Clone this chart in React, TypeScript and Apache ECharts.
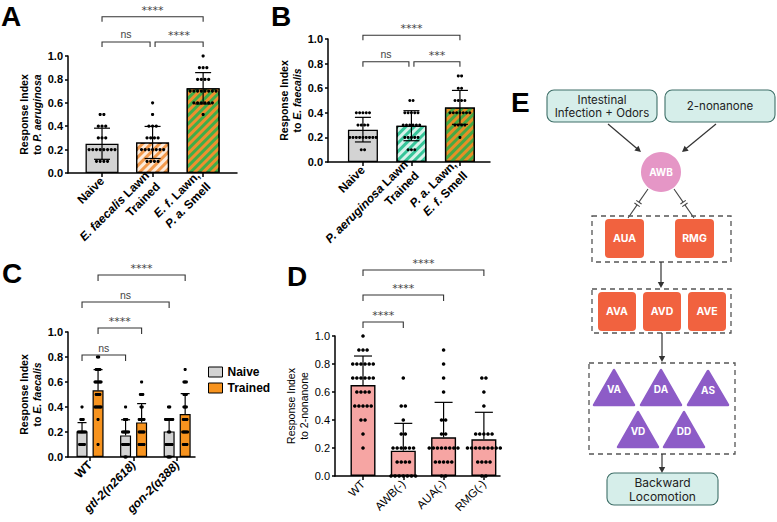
import React, { useEffect, useRef } from "react";
import * as echarts from "echarts";

const FONT = "'Liberation Sans', Arial, sans-serif";
const STAR_FONT = "'DejaVu Sans', sans-serif";
const DIAG_FONT = "Inter, Roboto, 'Noto Sans', sans-serif";

// ---------------- Panel A ----------------
const catsA = ["Naive", "{i|E. faecalis} Lawn\nTrained", "{i|E. f.} Lawn,\n{i|P. a.} Smell"];
const meansA = [0.25, 0.261, 0.724];
const sdA = [0.133, 0.137, 0.134];
const dotsANaive = [0.5, 0.5, 0.4, 0.4, 0.4, 0.3, 0.3, 0.3, 0.2, 0.2, 0.2, 0.2, 0.2, 0.2, 0.2, 0.2, 0.1, 0.1, 0.1, 0.1];
const dotsATrained = [0.6, 0.5, 0.4, 0.4, 0.4, 0.3, 0.3, 0.3, 0.3, 0.2, 0.2, 0.2, 0.2, 0.2, 0.2, 0.2, 0.1, 0.1, 0.1, 0.1];
const dotsAMixed = [1.0, 0.9, 0.9, 0.9, 0.8, 0.8, 0.8, 0.8, 0.7, 0.7, 0.7, 0.7, 0.7, 0.7, 0.7, 0.7, 0.6, 0.6, 0.6, 0.6, 0.6, 0.6, 0.5];
const sigA = [
  { label: "ns", from: 0, to: 1 },
  { label: "****", from: 1, to: 2 },
  { label: "****", from: 0, to: 2 },
];

// ---------------- Panel B ----------------
const catsB = ["Naive", "{i|P. aeruginosa} Lawn\nTrained", "{i|P. a.} Lawn,\n{i|E. f.} Smell"];
const meansB = [0.263, 0.295, 0.444];
const sdB = [0.1, 0.122, 0.138];
const dotsBNaive = [0.4, 0.4, 0.4, 0.4, 0.4, 0.3, 0.3, 0.3, 0.3, 0.2, 0.2, 0.2, 0.2, 0.2, 0.2, 0.2, 0.2, 0.2, 0.1, 0.1];
const dotsBTrained = [0.5, 0.5, 0.4, 0.4, 0.4, 0.4, 0.4, 0.3, 0.3, 0.3, 0.3, 0.3, 0.3, 0.2, 0.2, 0.2, 0.2, 0.2, 0.1, 0.1, 0.1];
const dotsBMixed = [0.7, 0.7, 0.6, 0.6, 0.5, 0.5, 0.5, 0.5, 0.4, 0.4, 0.4, 0.4, 0.4, 0.4, 0.4, 0.3, 0.3, 0.3, 0.3, 0.2];
const sigB = [
  { label: "ns", from: 0, to: 1 },
  { label: "***", from: 1, to: 2 },
  { label: "****", from: 0, to: 2 },
];

// ---------------- Panel C ----------------
const catsC = ["WT", "{i|gtl-2(n2618)}", "{i|gon-2(q388)}"];
const meansCNaive = [0.205, 0.173, 0.205];
const sdCNaive = [0.07, 0.125, 0.1];
const meansCTrained = [0.533, 0.277, 0.344];
const sdCTrained = [0.166, 0.15, 0.163];
const dotsCWTNaive = [0.4, 0.3, 0.3, 0.3, 0.2, 0.2, 0.2, 0.2, 0.2, 0.2, 0.2, 0.1, 0.1, 0.1, 0.1, 0.1];
const dotsCWTTrained = [0.8, 0.8, 0.7, 0.7, 0.7, 0.7, 0.6, 0.6, 0.6, 0.6, 0.6, 0.6, 0.5, 0.5, 0.5, 0.5, 0.4, 0.4, 0.4, 0.4, 0.4, 0.4, 0.3, 0.1];
const dotsCGtlNaive = [0.4, 0.3, 0.3, 0.3, 0.2, 0.2, 0.2, 0.2, 0.2, 0.2, 0.1, 0.1, 0.1, 0.1, 0.1, 0.1, 0.0, 0.0];
const dotsCGtlTrained = [0.6, 0.5, 0.5, 0.5, 0.4, 0.4, 0.3, 0.3, 0.3, 0.3, 0.3, 0.2, 0.2, 0.2, 0.2, 0.2, 0.1, 0.1, 0.1, 0.1, 0.1];
const dotsCGonNaive = [0.4, 0.4, 0.3, 0.3, 0.3, 0.3, 0.3, 0.3, 0.3, 0.2, 0.2, 0.1, 0.1, 0.1, 0.1, 0.1, 0.1, 0.0, 0.0, 0.0];
const dotsCGonTrained = [0.7, 0.6, 0.6, 0.6, 0.5, 0.5, 0.5, 0.4, 0.4, 0.4, 0.3, 0.3, 0.3, 0.3, 0.2, 0.2, 0.2, 0.2, 0.2, 0.1, 0.1, 0.1, 0.1];
const legendC = ["Naive", "Trained"];
// [label, fromGroup, fromSeries(0 naive / 1 trained), toGroup, toSeries]
const sigC: [string, number, number, number, number][] = [
  ["ns", 0, 0, 1, 0],
  ["****", 0, 1, 1, 1],
  ["ns", 0, 0, 2, 0],
  ["****", 0, 1, 2, 1],
];

// ---------------- Panel D ----------------
const catsD = ["WT", "AWB(-)", "AUA(-)", "RMG(-)"];
const meansD = [0.65, 0.181, 0.276, 0.262];
const sdD = [0.207, 0.195, 0.25, 0.193];
const dotsDWT = [1.0, 0.9, 0.9, 0.9, 0.8, 0.8, 0.8, 0.8, 0.8, 0.8, 0.7, 0.7, 0.7, 0.7, 0.7, 0.7, 0.6, 0.6, 0.6, 0.6, 0.5, 0.5, 0.5, 0.5, 0.5, 0.4, 0.4, 0.3, 0.2];
const dotsDAWB = [0.7, 0.5, 0.5, 0.4, 0.3, 0.3, 0.2, 0.2, 0.2, 0.2, 0.2, 0.2, 0.1, 0.1, 0.1, 0.1, 0.0, 0.0, 0.0, 0.0, 0.0, 0.0, 0.0];
const dotsDAUA = [0.9, 0.8, 0.7, 0.6, 0.4, 0.4, 0.3, 0.3, 0.2, 0.2, 0.2, 0.2, 0.2, 0.2, 0.2, 0.2, 0.1, 0.1, 0.1, 0.1, 0.1, 0.0, 0.0];
const dotsDRMG = [0.7, 0.7, 0.6, 0.5, 0.3, 0.3, 0.3, 0.3, 0.3, 0.2, 0.2, 0.2, 0.2, 0.2, 0.2, 0.2, 0.2, 0.2, 0.1, 0.1, 0.1, 0.1, 0.0, 0.0];
const sigD = [
  { label: "****", from: 0, to: 1 },
  { label: "****", from: 0, to: 2 },
  { label: "****", from: 0, to: 3 },
];

// ---------------- layout constants ----------------
const levelsA = [1.12, 1.12, 1.335];
const levelsB = [0.815, 0.815, 1.03];
const levelsC = [0.816, 1.032, 1.24, 1.456];
const levelsD = [1.1, 1.293, 1.471];
const C_OFF = 0.184; // half spacing between paired bars (in group units)

const stripe = (color: string) => ({
  symbol: "rect",
  symbolSize: 1,
  dashArrayX: [1, 0],
  dashArrayY: [2.2, 2.8],
  rotation: -Math.PI / 4,
  color,
});

function beeswarm(x: number, values: number[]) {
  const counts: Record<string, number> = {};
  values.forEach((v) => {
    const k = v.toFixed(2);
    counts[k] = (counts[k] || 0) + 1;
  });
  const seen: Record<string, number> = {};
  return values.map((v) => {
    const k = v.toFixed(2);
    seen[k] = seen[k] === undefined ? 0 : seen[k] + 1;
    return [x, v, seen[k] - (counts[k] - 1) / 2];
  });
}

function dotSeries(gi: number, groups: [number, number[]][], spacing: number, r: number) {
  const data: number[][] = [];
  groups.forEach(([x, vals]) => beeswarm(x, vals).forEach((d) => data.push(d)));
  return {
    type: "custom",
    xAxisIndex: gi,
    yAxisIndex: gi,
    z: 4,
    silent: true,
    data,
    renderItem: (_p: any, api: any) => {
      const pt = api.coord([api.value(0), api.value(1)]);
      return {
        type: "circle",
        shape: { cx: pt[0] + api.value(2) * spacing, cy: pt[1], r },
        style: { fill: "#000" },
      };
    },
  };
}

function errSeries(gi: number, xs: number[], means: number[], sds: number[], cap: number, both: boolean) {
  return {
    type: "custom",
    xAxisIndex: gi,
    yAxisIndex: gi,
    z: 3,
    silent: true,
    data: xs.map((x, i) => [x, means[i], sds[i]]),
    renderItem: (_p: any, api: any) => {
      const x = api.value(0);
      const m = api.value(1);
      const s = api.value(2);
      const top = api.coord([x, m + s]);
      const mid = api.coord([x, m]);
      const bot = api.coord([x, Math.max(0, m - s)]);
      const st = { stroke: "#000", lineWidth: 1.2 };
      const children: any[] = [
        { type: "line", shape: { x1: top[0], y1: top[1], x2: top[0], y2: both ? bot[1] : mid[1] }, style: st },
        { type: "line", shape: { x1: top[0] - cap, y1: top[1], x2: top[0] + cap, y2: top[1] }, style: st },
      ];
      if (both) {
        children.push({ type: "line", shape: { x1: bot[0] - cap, y1: bot[1], x2: bot[0] + cap, y2: bot[1] }, style: st });
      }
      return { type: "group", children };
    },
  };
}

function sigSeries(gi: number, items: { label: string; x1: number; x2: number }[], levels: number[], tick: number) {
  const data = items.map((it, i) => {
    const sharedStart = items.some((o, j) => j !== i && levels[j] === levels[i] && (o.x2 === it.x1 || o.x1 === it.x1));
    const sharedEnd = items.some((o, j) => j !== i && levels[j] === levels[i] && (o.x1 === it.x2 || o.x2 === it.x2));
    return [it.x1, it.x2, levels[i], sharedStart ? 2.5 : 0, sharedEnd ? 2.5 : 0];
  });
  return {
    type: "custom",
    xAxisIndex: gi,
    yAxisIndex: gi,
    z: 5,
    silent: true,
    clip: false,
    data,
    renderItem: (params: any, api: any) => {
      const a = api.coord([api.value(0), api.value(2)]);
      const b = api.coord([api.value(1), api.value(2)]);
      const xa = a[0] + api.value(3);
      const xb = b[0] - api.value(4);
      const y = a[1];
      const label = items[params.dataIndex].label;
      const isStar = label.indexOf("*") >= 0;
      return {
        type: "group",
        children: [
          {
            type: "polyline",
            shape: { points: [[xa, y + tick], [xa, y], [xb, y], [xb, y + tick]] },
            style: { stroke: "#333", lineWidth: 1.1, fill: "none" },
          },
          {
            type: "text",
            x: (xa + xb) / 2,
            y: y - (isStar ? 1 : 2),
            style: {
              text: label,
              fontFamily: isStar ? STAR_FONT : FONT,
              fontSize: isStar ? 11 : 10.5,
              fill: "#444",
              align: "center",
              textAlign: "center",
              verticalAlign: "bottom",
              textVerticalAlign: "bottom",
            },
          },
        ],
      };
    },
  };
}

function makeX(gi: number, min: number, max: number, cats: string[], bold: boolean, size: number) {
  const vals = cats.map((_c, i) => i);
  const base = { fontFamily: FONT, fontSize: size, fontWeight: bold ? "bold" : "normal", color: "#000", lineHeight: size + 3.5 };
  return {
    type: "value",
    gridIndex: gi,
    min,
    max,
    axisLine: { show: true, onZero: false, lineStyle: { color: "#000", width: 1.5 } },
    axisTick: { show: true, customValues: vals, length: 4, lineStyle: { color: "#000", width: 1.5 } },
    axisLabel: {
      show: true,
      customValues: vals,
      rotate: 45,
      margin: 6,
      ...base,
      formatter: (v: number) => cats[Math.round(v)] ?? "",
      rich: { i: { ...base, fontStyle: "italic" } },
    },
    splitLine: { show: false },
  };
}

function makeY(gi: number, name: string, bold: boolean, gap: number) {
  const base = { fontFamily: FONT, fontSize: 10.5, fontWeight: bold ? "bold" : "normal", color: "#000", lineHeight: 13 };
  return {
    type: "value",
    gridIndex: gi,
    min: 0,
    max: 1,
    interval: 0.2,
    name,
    nameLocation: "middle",
    nameRotate: 90,
    nameGap: gap,
    nameTextStyle: { ...base, rich: { b: base, bi: { ...base, fontStyle: "italic" } } },
    axisLine: { show: true, onZero: false, lineStyle: { color: "#000", width: 1.5 } },
    axisTick: { show: true, length: 3, lineStyle: { color: "#000", width: 1.5 } },
    axisLabel: {
      show: true,
      margin: 5,
      fontFamily: FONT,
      fontSize: 11,
      fontWeight: bold ? "bold" : "normal",
      color: "#000",
      formatter: (v: number) => v.toFixed(1),
    },
    splitLine: { show: false },
  };
}

// ---------------- diagram helpers (panel E) ----------------
function arrow(x1: number, y1: number, x2: number, y2: number) {
  const dx = x2 - x1;
  const dy = y2 - y1;
  const len = Math.sqrt(dx * dx + dy * dy);
  const ux = dx / len;
  const uy = dy / len;
  const nx = -uy;
  const ny = ux;
  const L = 6;
  const W = 3.2;
  return [
    { type: "line", shape: { x1, y1, x2: x2 - ux * (L - 1), y2: y2 - uy * (L - 1) }, style: { stroke: "#333", lineWidth: 1.2 } },
    {
      type: "polygon",
      shape: {
        points: [
          [x2, y2],
          [x2 - ux * L + nx * W, y2 - uy * L + ny * W],
          [x2 - ux * L - nx * W, y2 - uy * L - ny * W],
        ],
      },
      style: { fill: "#333" },
    },
  ];
}

function gapLine(x1: number, y1: number, x2: number, y2: number) {
  const dx = x2 - x1;
  const dy = y2 - y1;
  const len = Math.sqrt(dx * dx + dy * dy);
  const ux = dx / len;
  const uy = dy / len;
  const nx = -uy;
  const ny = ux;
  const mx = (x1 + x2) / 2;
  const my = (y1 + y2) / 2;
  const g = 1.6;
  const h = 3.2;
  const st = { stroke: "#444", lineWidth: 1.1 };
  return [
    { type: "line", shape: { x1, y1, x2: mx - ux * g, y2: my - uy * g }, style: st },
    { type: "line", shape: { x1: mx + ux * g, y1: my + uy * g, x2, y2 }, style: st },
    { type: "line", shape: { x1: mx - ux * g + nx * h, y1: my - uy * g + ny * h, x2: mx - ux * g - nx * h, y2: my - uy * g - ny * h }, style: st },
    { type: "line", shape: { x1: mx + ux * g + nx * h, y1: my + uy * g + ny * h, x2: mx + ux * g - nx * h, y2: my + uy * g - ny * h }, style: st },
  ];
}

function txt(text: string, x: number, y: number, size: number, fill: string, weight: string, family = DIAG_FONT, lh?: number) {
  return {
    type: "text",
    x,
    y,
    style: {
      text,
      fontFamily: family,
      fontSize: size,
      fontWeight: weight,
      fill,
      lineHeight: lh ?? size * 1.2,
      align: "center",
      textAlign: "center",
      verticalAlign: "middle",
      textVerticalAlign: "middle",
    },
  };
}

function roundBox(x: number, y: number, w: number, h: number) {
  return {
    type: "rect",
    shape: { x, y, width: w, height: h, r: 7 },
    style: { fill: "#d6eeea", stroke: "#3f6f68", lineWidth: 1.1 },
  };
}

function dashBox(x: number, y: number, w: number, h: number) {
  return {
    type: "rect",
    shape: { x, y, width: w, height: h },
    style: { fill: "none", stroke: "#555", lineWidth: 1.3, lineDash: [5, 4] },
  };
}

function neuronSq(x: number, y: number, w: number, h: number, label: string) {
  return [
    { type: "rect", shape: { x, y, width: w, height: h, r: 4 }, style: { fill: "#f1623f" } },
    txt(label, x + w / 2, y + h / 2, 10.5, "#fff", "bold"),
  ];
}

function tri(cx: number, top: number, half: number, h: number, label: string) {
  return [
    {
      type: "polygon",
      shape: { points: [[cx, top], [cx - half, top + h], [cx + half, top + h]] },
      style: { fill: "#8d5cc7", stroke: "#8d5cc7", lineWidth: 2.5, lineJoin: "round" },
    },
    txt(label, cx, top + h * 0.55, 10, "#fff", "bold"),
  ];
}

function letter(l: string, x: number, y: number) {
  return {
    type: "text",
    x,
    y,
    style: {
      text: l,
      fontFamily: FONT,
      fontSize: 28,
      fontWeight: "bold",
      fill: "#000",
      align: "left",
      textAlign: "left",
      verticalAlign: "middle",
      textVerticalAlign: "middle",
    },
  };
}

export default function App() {
  const ref = useRef<HTMLDivElement>(null);

  useEffect(() => {
    if (!ref.current) return;
    const chart = echarts.init(ref.current, null, { renderer: "svg" });

    const xsA = [0, 1, 2];
    const xsB = [0, 1, 2];
    const xsD = [0, 1, 2, 3];
    const xsCN = [0 - C_OFF, 1 - C_OFF, 2 - C_OFF];
    const xsCT = [0 + C_OFF, 1 + C_OFF, 2 + C_OFF];

    const colorsA = [
      { color: "#d3d3d3" },
      { color: "#f39a4c", decal: stripe("rgba(255,255,255,0.8)") },
      { color: "#3fae49", decal: stripe("#ef8f2e") },
    ];
    const colorsB = [
      { color: "#d3d3d3" },
      { color: "#37c599", decal: stripe("rgba(255,255,255,0.8)") },
      { color: "#e68f25", decal: stripe("#47a944") },
    ];

    const barItem = (x: number, m: number, st: any) => ({
      value: [x, m],
      itemStyle: { color: st.color, decal: st.decal, borderColor: "#000", borderWidth: 1.3 },
    });

    const sigItemsC = sigC.map(([label, g1, s1, g2, s2]) => ({
      label,
      x1: g1 + (s1 ? C_OFF : -C_OFF),
      x2: g2 + (s2 ? C_OFF : -C_OFF),
    }));

    const option: any = {
      animation: false,
      backgroundColor: "#fff",
      textStyle: { fontFamily: FONT },
      grid: [
        { left: 68, top: 56, width: 169, height: 117, outerBoundsMode: "none" },
        { left: 328, top: 39, width: 162, height: 123, outerBoundsMode: "none" },
        { left: 68, top: 332, width: 127, height: 125, outerBoundsMode: "none" },
        { left: 335, top: 336, width: 165, height: 140, outerBoundsMode: "none" },
      ],
      xAxis: [
        makeX(0, -0.673, 2.67, catsA, true, 12),
        makeX(1, -0.72, 2.62, catsB, true, 12),
        makeX(2, -0.506, 2.41, catsC, true, 12),
        makeX(3, -0.695, 3.4, catsD, false, 11.5),
      ],
      yAxis: [
        makeY(0, "{b|Response Index}\n{b|to }{bi|P. aeruginosa}", true, 15),
        makeY(1, "{b|Response Index}\n{b|to }{bi|E. faecalis}", true, 15),
        makeY(2, "{b|Response Index}\n{b|to }{bi|E. faecalis}", true, 15),
        makeY(3, "{b|Response Index}\n{b|to 2-nonanone}", false, 14),
      ],
      legend: {
        data: legendC,
        orient: "vertical",
        left: 203,
        top: 361,
        itemWidth: 14,
        itemHeight: 10,
        itemGap: 4,
        icon: "rect",
        selectedMode: false,
        textStyle: { fontFamily: FONT, fontWeight: "bold", fontSize: 12, color: "#000" },
        itemStyle: { borderColor: "#000", borderWidth: 1 },
      },
      series: [
        // Panel A
        {
          type: "bar",
          name: "A",
          xAxisIndex: 0,
          yAxisIndex: 0,
          barWidth: 33,
          z: 2,
          silent: true,
          data: xsA.map((x, i) => barItem(x, meansA[i], colorsA[i])),
        },
        errSeries(0, xsA, meansA, sdA, 8, true),
        dotSeries(0, [[0, dotsANaive], [1, dotsATrained], [2, dotsAMixed]], 3.7, 1.6),
        sigSeries(0, sigA.map((s) => ({ label: s.label, x1: s.from, x2: s.to })), levelsA, 5),
        // Panel B
        {
          type: "bar",
          name: "B",
          xAxisIndex: 1,
          yAxisIndex: 1,
          barWidth: 30,
          z: 2,
          silent: true,
          data: xsB.map((x, i) => barItem(x, meansB[i], colorsB[i])),
        },
        errSeries(1, xsB, meansB, sdB, 8, true),
        dotSeries(1, [[0, dotsBNaive], [1, dotsBTrained], [2, dotsBMixed]], 3.3, 1.5),
        sigSeries(1, sigB.map((s) => ({ label: s.label, x1: s.from, x2: s.to })), levelsB, 5),
        // Panel C
        {
          type: "bar",
          name: "Naive",
          xAxisIndex: 2,
          yAxisIndex: 2,
          barWidth: 11,
          barGap: "-100%",
          z: 2,
          silent: true,
          itemStyle: { color: "#d3d3d3", borderColor: "#000", borderWidth: 1.2 },
          data: xsCN.map((x, i) => [x, meansCNaive[i]]),
        },
        {
          type: "bar",
          name: "Trained",
          xAxisIndex: 2,
          yAxisIndex: 2,
          barWidth: 11,
          barGap: "-100%",
          z: 2,
          silent: true,
          itemStyle: { color: "#f7931e", borderColor: "#000", borderWidth: 1.2 },
          data: xsCT.map((x, i) => [x, meansCTrained[i]]),
        },
        errSeries(2, xsCN, meansCNaive, sdCNaive, 4.5, false),
        errSeries(2, xsCT, meansCTrained, sdCTrained, 4.5, false),
        dotSeries(
          2,
          [
            [xsCN[0], dotsCWTNaive],
            [xsCT[0], dotsCWTTrained],
            [xsCN[1], dotsCGtlNaive],
            [xsCT[1], dotsCGtlTrained],
            [xsCN[2], dotsCGonNaive],
            [xsCT[2], dotsCGonTrained],
          ],
          1.2,
          1.6
        ),
        sigSeries(2, sigItemsC, levelsC, 6),
        // Panel D
        {
          type: "bar",
          name: "D",
          xAxisIndex: 3,
          yAxisIndex: 3,
          barWidth: 25,
          z: 2,
          silent: true,
          itemStyle: { color: "#f6a5a3", borderColor: "#000", borderWidth: 1.4 },
          data: xsD.map((x, i) => [x, meansD[i]]),
        },
        errSeries(3, xsD, meansD, sdD, 9, false),
        dotSeries(3, [[0, dotsDWT], [1, dotsDAWB], [2, dotsDAUA], [3, dotsDRMG]], 4.1, 1.8),
        sigSeries(3, sigD.map((s) => ({ label: s.label, x1: s.from, x2: s.to })), levelsD, 6),
      ],
      graphic: [
        letter("A", 1, 16),
        letter("B", 271, 16),
        letter("C", 2, 273),
        letter("D", 287, 276),
        letter("E", 511, 102),
        // panel E diagram
        roundBox(547, 90, 110, 32),
        txt("Intestinal\nInfection + Odors", 602, 106, 11.5, "#222", "normal", DIAG_FONT, 13),
        roundBox(665, 90, 110, 32),
        txt("2-nonanone", 720, 106, 11.5, "#222", "normal"),
        ...arrow(608, 124, 641, 152),
        ...arrow(716, 124, 682, 152),
        { type: "circle", shape: { cx: 661, cy: 172, r: 20 }, style: { fill: "#e596c6" } },
        txt("AWB", 661, 172, 10, "#fff", "bold"),
        ...gapLine(648, 189, 628, 218),
        ...gapLine(674, 189, 694, 218),
        dashBox(592, 216, 139, 46),
        ...neuronSq(605, 219, 39, 39, "AUA"),
        ...neuronSq(675, 219, 39, 39, "RMG"),
        ...arrow(661, 262, 661, 288),
        dashBox(592, 289, 139, 44),
        ...neuronSq(598, 292, 38, 39, "AVA"),
        ...neuronSq(643, 292, 38, 39, "AVD"),
        ...neuronSq(688, 292, 38, 39, "AVE"),
        ...arrow(662, 333, 662, 362),
        dashBox(589, 363, 146, 91),
        ...tri(614, 370, 20, 35, "VA"),
        ...tri(661, 370, 20, 35, "DA"),
        ...tri(708, 371, 20, 34, "AS"),
        ...tri(638, 412, 20, 35, "VD"),
        ...tri(684, 412, 20, 35, "DD"),
        ...arrow(662, 454, 662, 473),
        roundBox(607, 473, 111, 32),
        txt("Backward\nLocomotion", 662.5, 489, 12, "#222", "normal", DIAG_FONT, 14),
      ],
    };

    chart.setOption(option);
    return () => chart.dispose();
  }, []);

  return (
    <div
      ref={ref}
      style={{ position: "fixed", left: 0, top: 0, width: 777, height: 522, background: "#fff" }}
    />
  );
}
